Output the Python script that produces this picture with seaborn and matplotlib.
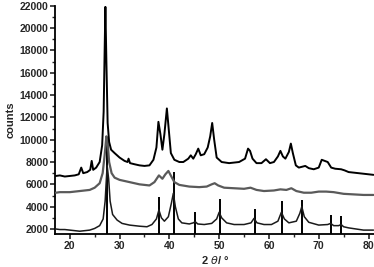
import numpy as np
import pandas as pd
import matplotlib
matplotlib.use("Agg")
import matplotlib.pyplot as plt
import seaborn as sns
from matplotlib.ticker import MultipleLocator

# --- data (2-theta in degrees, counts) ---
top_x = [17.2, 18, 19, 20, 21, 21.8, 22.3, 22.7, 23.5, 24.1, 24.4, 24.7, 25.3, 26.0, 26.5, 26.8,
         27.0, 27.15, 27.35, 27.6, 27.9, 28.3, 29, 30, 31, 31.6, 31.8, 32.1, 33, 34, 35, 36, 36.8,
         37.4, 37.8, 38.2, 38.6, 39.0, 39.5, 39.9, 40.3, 41, 42, 42.8, 43.8, 44.3, 44.8, 45.3,
         45.8, 46.3, 47, 47.7, 48.2, 48.6, 49.0, 49.5, 50.5, 52, 54, 55.2, 55.8, 56.2, 56.7,
         57.5, 58.5, 59.4, 60.2, 61, 61.8, 62.3, 62.8, 63.3, 64.0, 64.4, 64.8, 65.4, 66, 67.3,
         68, 69, 70, 70.6, 71.2, 71.8, 72.5, 73.3, 74.5, 75.2, 76, 78, 80, 81]
top_y = [6750, 6800, 6700, 6750, 6800, 6900, 7500, 7000, 7100, 7300, 8100, 7300, 7500, 8000, 9500, 12500,
         18000, 21900, 17000, 11500, 9800, 9100, 8800, 8400, 8100, 8000, 8300, 7900, 7800, 7700, 7650, 7700, 8200,
         9300, 11600, 10500, 9100, 10500, 12800, 10800, 8800, 8200, 8000, 8000, 8300, 8600, 8300, 8700,
         9200, 8600, 8700, 9300, 10300, 11500, 10000, 8400, 8000, 7900, 8000, 8300, 9200, 9000, 8300,
         7900, 7900, 8250, 7900, 8000, 8500, 9000, 8500, 8300, 8900, 9650, 8800, 7700, 7500, 7650,
         7450, 7350, 7500, 8200, 8100, 8000, 7500, 7400, 7350, 7250, 7100, 7000, 6900, 6850]

mid_x = [17.2, 18, 20, 22, 24, 25, 26, 26.6, 27.0, 27.35, 27.6, 27.9, 28.4, 29, 30, 32, 34, 36, 37,
         37.9, 38.6, 39.2, 39.8, 40.4, 41, 42, 44, 46, 47.5, 48.5, 49.1, 49.8, 51, 53, 55, 56.3,
         57.5, 59, 61, 62.3, 63.5, 64.5, 65.5, 67, 68.5, 70, 71.5, 73, 75, 77, 79, 81]
mid_y = [5250, 5300, 5300, 5400, 5500, 5700, 6100, 7000, 8600, 10300, 9800, 8000, 7000, 6600, 6400, 6200, 6000, 5900, 6200,
         6800, 6500, 6900, 7200, 6700, 6200, 5950, 5800, 5750, 5800, 6000, 6100, 5900, 5700, 5650, 5600, 5700,
         5500, 5400, 5450, 5550, 5500, 5650, 5400, 5250, 5250, 5350, 5350, 5300, 5150, 5100, 5050, 5050]

bot_x = [17.2, 18, 19, 20, 21, 22, 23, 24, 25, 26, 26.7, 27.1, 27.5, 27.8, 28.1, 28.6, 29.5, 30.5,
         32, 34, 35.5, 36.5, 37.4, 37.9, 38.4, 39, 39.8, 40.4, 40.8, 41.2, 41.8, 42.5, 44, 44.8,
         45.2, 45.7, 47, 48.5, 49.5, 50.0, 50.5, 51.5, 53, 55, 56.4, 57.0, 57.6, 59, 60.5, 61.8,
         62.5, 63.1, 64, 65.5, 66.2, 66.6, 67.1, 68, 70, 71.8, 72.4, 73, 74, 74.5, 75, 76, 77.5, 79, 81]
bot_y = [2000, 1950, 1950, 1900, 1850, 1800, 1850, 1900, 2050, 2300, 2900, 4500, 7700, 6500, 4500, 3300, 2800, 2500,
         2350, 2250, 2200, 2400, 2900, 3700, 3000, 2700, 3100, 4300, 5200, 4000, 2900, 2550, 2450, 2550,
         2650, 2450, 2400, 2500, 2900, 3500, 3000, 2550, 2400, 2400, 2550, 2950, 2550, 2400, 2400, 2700,
         3500, 2900, 2550, 2700, 3400, 4000, 3100, 2600, 2350, 2400, 2500, 2300, 2300, 2400, 2200, 2100, 2000, 1900, 1900]

# reference pattern sticks
ref_pos = [27.55, 38.0, 40.9, 45.2, 50.1, 57.1, 62.7, 66.6, 72.5, 74.5]
ref_int = [9900, 4900, 7100, 3500, 4650, 3770, 4550, 4600, 3250, 3200]

x_lim = (17.1, 81.1)
y_lim = (1525, 22000)

sns.set_style("ticks")
plt.rcParams['font.family'] = ['Liberation Sans', 'DejaVu Sans']

fig = plt.figure(figsize=(3.74, 2.67), dpi=100)
ax = fig.add_axes([0.148, 0.1225, 0.852, 0.856])

ax.vlines(ref_pos, y_lim[0], ref_int, color='black', linewidth=1.4, zorder=2)
sns.lineplot(x=bot_x, y=bot_y, ax=ax, color='#1a1a1a', linewidth=1.1, zorder=3)
sns.lineplot(x=mid_x, y=mid_y, ax=ax, color='#5a5a5a', linewidth=1.6, zorder=4)
sns.lineplot(x=top_x, y=top_y, ax=ax, color='black', linewidth=1.4, zorder=5)

ax.set_xlim(*x_lim)
ax.set_ylim(*y_lim)
ax.xaxis.set_major_locator(MultipleLocator(10))
ax.xaxis.set_minor_locator(MultipleLocator(5))
ax.yaxis.set_major_locator(MultipleLocator(2000))
ax.yaxis.set_minor_locator(MultipleLocator(1000))

ax.tick_params(which='major', direction='out', length=3.5, width=1.2, labelsize=7.5, pad=1.5)
ax.tick_params(which='minor', direction='out', length=2, width=1.0)
for lab in ax.get_xticklabels() + ax.get_yticklabels():
    lab.set_fontweight('bold')

for s in ['left', 'bottom']:
    ax.spines[s].set_linewidth(1.3)
    ax.spines[s].set_color('black')
sns.despine(ax=ax)

ax.set_xlabel(r"2 $\mathit{\theta}$/ °", fontsize=8, fontweight='bold', labelpad=2)
ax.set_ylabel("counts", fontsize=8, fontweight='bold', labelpad=3)

fig.savefig("out.png", dpi=100)
